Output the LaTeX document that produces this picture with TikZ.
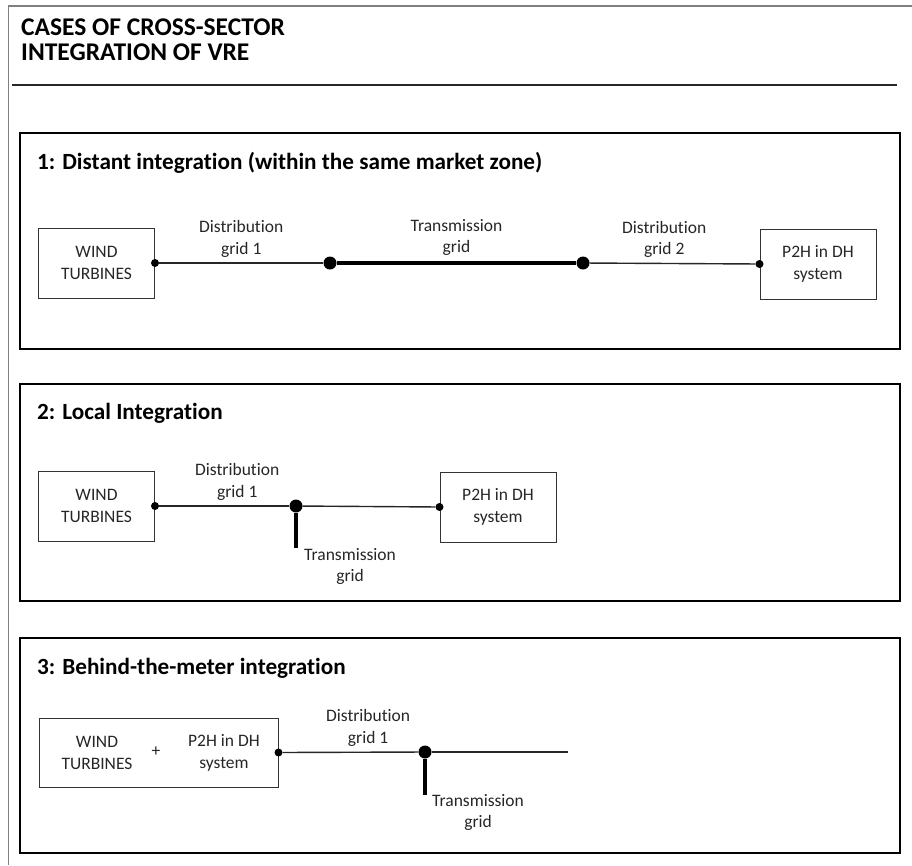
\documentclass[tikz,border=0pt]{standalone}
\usepackage{fontspec}
\setmainfont{Carlito}[Ligatures = NoCommon]
\newcommand{\bodytext}{\fontsize{17.5}{21.5}\selectfont}
\newcommand{\headtext}{\fontsize{23.2}{27}\selectfont\bfseries}
\newcommand{\titletext}{\fontsize{25.5}{25}\selectfont\bfseries}

\tikzstyle{panel} = [draw = black, line width = 2.5pt]
\tikzstyle{unit} = [rectangle, draw = black!80, line width = 1pt, minimum width = 116pt, minimum height = 70pt, align = center, font = \bodytext, text = black!85]
\tikzstyle{wire} = [draw = black!85, line width = 1.4pt]
\tikzstyle{trunk} = [draw = black, line width = 4pt]
\tikzstyle{tap} = [circle, fill = black, inner sep = 0pt, minimum size = 8pt]
\tikzstyle{hub} = [circle, fill = black, inner sep = 0pt, minimum size = 13pt]
\tikzstyle{lbl} = [align = center, inner sep = 0pt, font = \bodytext, text = black!85]
\tikzstyle{head} = [anchor = west, inner sep = 0pt, font = \headtext]

\begin{document}
\begin{tikzpicture}[x = 1pt, y = -1pt]
	\useasboundingbox (0,0) rectangle (912,865);
	% outer frame and heading
	\draw[black!50, line width = 1.5pt] (8.5,865) -- (8.5,6) -- (912,6);
	\node[anchor = north west, align = left, inner sep = 0pt, font = \titletext] (title) at (21,19) {CASES OF CROSS-SECTOR\\INTEGRATION OF VRE};
	\draw[black!85, line width = 1.5pt] (12,85) -- (897,85);

	% case 1
	\draw[panel] (20,133) rectangle (900,349);
	\node[head] (h1) at (37,163) {1: Distant integration (within the same market zone)};
	\node[unit] (w1) at (96.5,263) {WIND\\TURBINES};
	\node[unit] (p1) at (818,264) {P2H in DH\\system};
	\node[tap] (a1) at (w1.east) {};
	\node[hub] (b1) at (330,263) {};
	\node[hub] (c1) at (583,263) {};
	\node[tap] (d1) at (p1.west) {};
	\path
	(a1) edge[wire] node[lbl, above = 5pt] {Distribution\\grid 1} (b1)
	(b1) edge[trunk] node[lbl, above = 5pt] {Transmission\\grid} (c1)
	(c1) edge[wire] node[lbl, above = 5pt, pos = 0.45] {Distribution\\grid 2} (d1);

	% case 2
	\draw[panel] (20,384) rectangle (900,601);
	\node[head] (h2) at (37,413) {2: Local Integration};
	\node[unit] (w2) at (96.5,506) {WIND\\TURBINES};
	\node[unit] (p2) at (498,507) {P2H in DH\\system};
	\node[tap] (a2) at (w2.east) {};
	\node[hub] (j2) at (296,506) {};
	\node[tap] (d2) at (p2.west) {};
	\coordinate (s2) at (296,548);
	\path
	(a2) edge[wire] node[lbl, above = 5pt, pos = 0.6] {Distribution\\grid 1} (j2)
	(j2) edge[wire] (d2);
	\draw[trunk] (j2) -- (s2);
	\node[lbl, anchor = north west] (t2) at (304,548) {Transmission\\grid};

	% case 3
	\draw[panel] (20,638) rectangle (900,853);
	\node[head] (h3) at (37,668) {3: Behind-the-meter integration};
	\node[unit, minimum width = 239pt, minimum height = 69pt] (bx) at (158.5,752.5) {};
	\node[lbl] (w3) at (97,753) {WIND\\TURBINES};
	\node[lbl] (plus) at (156,752) {+};
	\node[lbl] (p3) at (224,753) {P2H in DH\\system};
	\node[tap] (a3) at (bx.east) {};
	\node[hub] (j3) at (425,752) {};
	\coordinate (e3) at (568,752);
	\coordinate (s3) at (425,795);
	\path
	(a3) edge[wire] node[lbl, above = 5pt, pos = 0.63] {Distribution\\grid 1} (j3)
	(j3) edge[wire] (e3);
	\draw[trunk] (j3) -- (s3);
	\node[lbl, anchor = north west] (t3) at (432,794) {Transmission\\grid};
\end{tikzpicture}
\end{document}
